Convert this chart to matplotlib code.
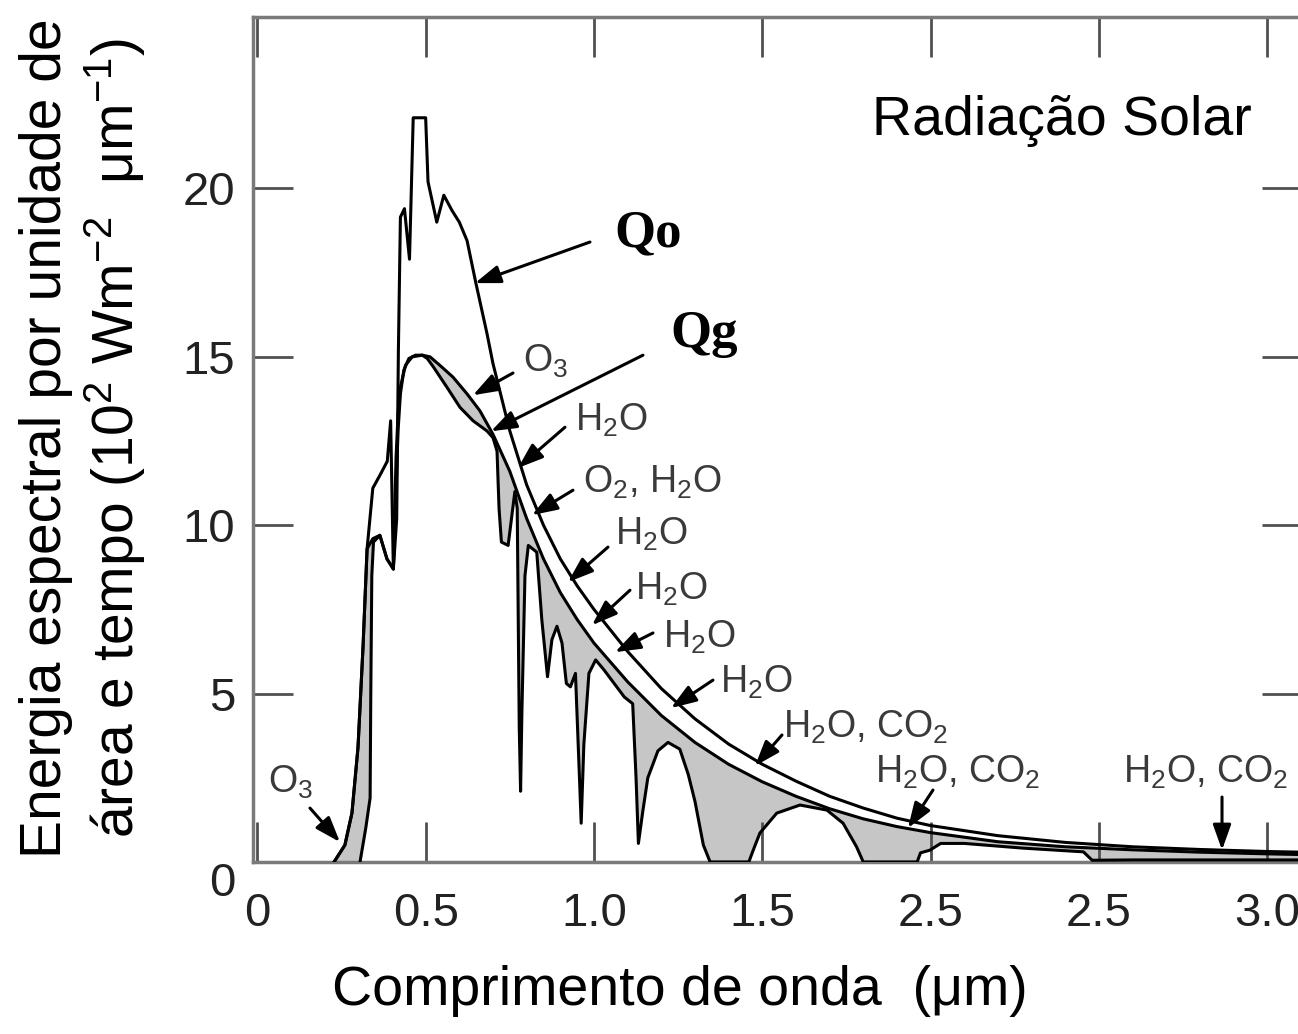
import matplotlib.pyplot as plt
import numpy as np

plt.rcParams["font.family"] = ["Liberation Sans", "DejaVu Sans"]
plt.rcParams["mathtext.fontset"] = "custom"
plt.rcParams["mathtext.rm"] = "Liberation Sans"
plt.rcParams["mathtext.it"] = "Liberation Sans:italic"
plt.rcParams["mathtext.bf"] = "Liberation Sans:bold"
plt.rcParams["mathtext.default"] = "rm"

# Qo - radiacao no topo da atmosfera
wl_qo = [0.228, 0.26, 0.281, 0.299, 0.314, 0.326, 0.343, 0.365, 0.386, 0.396,
         0.404, 0.414, 0.419, 0.425, 0.437, 0.452, 0.463, 0.50, 0.507, 0.533,
         0.554, 0.578, 0.60, 0.623, 0.649, 0.682, 0.70, 0.75, 0.80, 0.85,
         0.90, 0.95, 1.0, 1.1, 1.2, 1.3, 1.4, 1.5, 1.6, 1.7,
         1.8, 1.9, 2.0, 2.2, 2.4, 2.6, 2.8, 3.0, 3.15]
e_qo = [0.0, 0.5, 1.45, 3.4, 6.4, 9.3, 11.1, 11.5, 11.9, 13.1,
        8.7, 10.2, 15.2, 19.15, 19.4, 17.9, 22.1, 22.1, 20.2, 19.0,
        19.8, 19.35, 19.0, 18.45, 17.2, 15.7, 14.8, 12.8, 11.2, 10.0,
        9.0, 8.2, 7.5, 6.25, 5.15, 4.25, 3.5, 2.9, 2.4, 1.95,
        1.6, 1.3, 1.08, 0.78, 0.58, 0.45, 0.37, 0.31, 0.28]

# envelope atenuado (sem absorcao)
wl_env = [0.228, 0.26, 0.281, 0.299, 0.314, 0.326, 0.343, 0.364, 0.385, 0.404,
          0.412, 0.418, 0.425, 0.44, 0.46, 0.49, 0.513, 0.542, 0.581, 0.623,
          0.661, 0.70, 0.75, 0.80, 0.85, 0.90, 0.95, 1.0, 1.1, 1.2,
          1.3, 1.4, 1.5, 1.6, 1.7, 1.8, 1.9, 2.0, 2.2, 2.4,
          2.6, 2.8, 3.0, 3.15]
e_env = [0.0, 0.5, 1.45, 3.4, 6.4, 9.3, 9.6, 9.7, 9.0, 8.7,
         12.0, 13.3, 14.1, 14.75, 15.0, 15.05, 15.0, 14.75, 14.4, 13.9,
         13.4, 12.7, 11.6, 10.2, 9.0, 8.0, 7.2, 6.5, 5.35, 4.35,
         3.55, 2.9, 2.38, 1.95, 1.58, 1.28, 1.05, 0.87, 0.6, 0.45,
         0.36, 0.29, 0.24, 0.21]

# Qg - radiacao na superficie
wl_qg = [0.305, 0.322, 0.335, 0.337, 0.34, 0.345, 0.364, 0.385, 0.404, 0.41,
         0.418, 0.425, 0.435, 0.45, 0.47, 0.49, 0.505, 0.523, 0.563, 0.602,
         0.641, 0.682, 0.70, 0.712, 0.718, 0.725, 0.745, 0.755, 0.765, 0.772,
         0.778, 0.782, 0.786, 0.795, 0.805, 0.83, 0.845, 0.862, 0.875, 0.89,
         0.905, 0.918, 0.93, 0.945, 0.955, 0.962, 0.97, 0.985, 1.005, 1.03,
         1.06, 1.09, 1.115, 1.125, 1.132, 1.145, 1.16, 1.19, 1.22, 1.255,
         1.28, 1.30, 1.325, 1.345, 1.46, 1.475, 1.493, 1.543, 1.612, 1.692,
         1.74, 1.78, 1.80, 1.96, 1.97, 1.998, 2.03, 2.1, 2.275, 2.454,
         2.48, 2.6, 2.9, 3.15]
e_qg = [0.0, 1.0, 1.9, 5.0, 8.5, 9.5, 9.7, 9.0, 8.7, 10.5,
        12.8, 13.9, 14.6, 14.95, 15.05, 15.05, 14.95, 14.7, 14.1, 13.5,
        13.1, 12.8, 12.6, 12.2, 10.5, 9.5, 9.4, 10.2, 11.0, 10.5,
        4.0, 2.1, 4.5, 8.5, 9.4, 9.2, 7.2, 5.5, 6.6, 7.0,
        6.5, 5.3, 5.2, 5.6, 3.0, 1.15, 3.5, 5.6, 6.0, 5.7,
        5.3, 4.9, 4.7, 2.5, 0.55, 1.5, 2.5, 3.3, 3.55, 3.35,
        2.6, 1.8, 0.5, 0.0, 0.0, 0.4, 0.86, 1.45, 1.69, 1.54,
        1.15, 0.45, 0.0, 0.0, 0.27, 0.35, 0.55, 0.55, 0.41, 0.3,
        0.05, 0.06, 0.06, 0.06]

x_ticks = [0, 0.5, 1.0, 1.5, 2.0, 2.5, 3.0]
x_ticklabels = ["0", "0.5", "1.0", "1.5", "2.5", "2.5", "3.0"]
y_ticks = [0, 5, 10, 15, 20]

# rotulos das bandas de absorcao: texto, posicao do texto, inicio e ponta da seta
band_labels = [
    (r"O$_3$", (0.79, 14.57), (0.7594, 14.52), (0.6405, 13.86)),
    (r"H$_2$O", (0.944, 12.82), (0.9138, 12.91), (0.7742, 11.70)),
    (r"O$_2$, H$_2$O", (0.967, 10.98), (0.9376, 11.04), (0.8158, 10.30)),
    (r"H$_2$O", (1.062, 9.41), (1.0416, 9.35), (0.9228, 8.31)),
    (r"H$_2$O", (1.122, 7.78), (1.107, 8.07), (0.9941, 7.03)),
    (r"H$_2$O", (1.205, 6.35), (1.1753, 6.80), (1.0624, 6.23)),
    (r"H$_2$O", (1.374, 5.02), (1.3535, 5.40), (1.2288, 4.57)),
    (r"H$_2$O, CO$_2$", (1.562, 3.70), (1.5585, 3.77), (1.4783, 2.85)),
    (r"H$_2$O, CO$_2$", (1.835, 2.34), (2.0071, 2.135), (1.9329, 1.007)),
    (r"H$_2$O, CO$_2$", (2.571, 2.34), (2.8657, 1.927), (2.8657, 0.353)),
    (r"O$_3$", (0.032, 2.05), (0.1563, 1.60), (0.2454, 0.59)),
]

fig = plt.figure(figsize=(12.98, 10.34), dpi=100)
ax = fig.add_axes([0.1951, 0.1664, 0.8079, 0.8174])

# area de absorcao (entre envelope e Qg)
poly_x = np.concatenate([wl_qg, wl_env[::-1]])
poly_y = np.concatenate([e_qg, e_env[::-1]])
ax.fill(poly_x, poly_y, color="#c6c6c6", lw=0, zorder=1)

ax.plot(wl_qo, e_qo, color="black", lw=2.2, zorder=3)
ax.plot(wl_env, e_env, color="black", lw=2.2, zorder=3)
ax.plot(wl_qg, e_qg, color="black", lw=2.2, zorder=3)

arrow = dict(arrowstyle="-|>,head_length=0.7,head_width=0.25", color="black",
             lw=2.2, mutation_scale=22, shrinkA=0, shrinkB=0)

for label, txt, tail, tip in band_labels:
    ax.annotate("", xy=tip, xytext=tail, arrowprops=arrow, zorder=4)
    ax.text(txt[0], txt[1], label, fontsize=27, color="#3a3a3a",
            ha="left", va="baseline", zorder=5)

ax.annotate("", xy=(0.6465, 17.19), xytext=(0.9881, 18.41), arrowprops=arrow)
ax.annotate("", xy=(0.694, 12.79), xytext=(1.1456, 15.05), arrowprops=arrow)
ax.text(1.062, 18.27, "Qo", fontsize=38, fontweight="bold",
        family="Liberation Serif", ha="left", va="baseline")
ax.text(1.226, 15.30, "Qg", fontsize=38, fontweight="bold",
        family="Liberation Serif", ha="left", va="baseline")

ax.text(2.39, 21.58, "Radiação Solar", fontsize=40, ha="center", va="baseline")

ax.set_xlim(-0.0122, 3.103)
ax.set_ylim(0, 25.1)
ax.set_xticks(x_ticks)
ax.set_xticklabels(x_ticklabels)
ax.set_yticks(y_ticks)
ax.tick_params(direction="in", top=True, right=True, length=29, width=2,
               color="#505050", labelsize=34, labelcolor="#222222")
ax.tick_params(axis="x", pad=22)
ax.tick_params(axis="y", pad=13)
ax.get_yticklabels()[0].set_va("top")
for s in ax.spines.values():
    s.set_color("#7a7a7a")
    s.set_linewidth(2.5)

fig.text(0.5239, 0.028, "Comprimento de onda  (μm)", fontsize=40,
         ha="center", va="baseline")
fig.text(46 / 1298, 1 - 438 / 1034, "Energia espectral por unidade de",
         fontsize=41, rotation=90, ha="center", va="center")
fig.text(115 / 1298, 1 - 438 / 1034,
         "área e tempo (10$^2$ Wm$^{-2}$  μm$^{-1}$)",
         fontsize=41, rotation=90, ha="center", va="center")

fig.savefig("out.png", dpi=100)
